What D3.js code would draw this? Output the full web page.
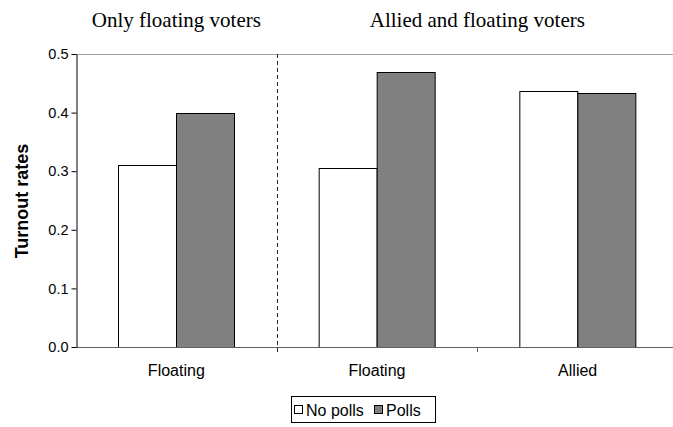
<!DOCTYPE html>
<html><head><meta charset="utf-8">
<script src="https://cdn.jsdelivr.net/npm/d3@7"></script>
<style>body{margin:0;background:#fff}svg{display:block}</style>
</head><body><svg id="c" width="673" height="427"></svg>
<script>
const groups = ["g1","g2","g3"];
const categories = ["Floating","Floating","Allied"];
const series = ["No polls","Polls"];
const noPolls = [0.310, 0.305, 0.437];
const polls = [0.400, 0.470, 0.434];
const yTicks = [0,0.1,0.2,0.3,0.4,0.5];
const panelTitles = ["Only floating voters","Allied and floating voters"];
const colors = {"No polls":"#ffffff","Polls":"#808080"};

const svg = d3.select("#c");
const L=76, R=678, T=54, B=347;
const x0 = d3.scaleBand().domain(groups).range([L,R]).padding(0);
const bw = x0.bandwidth();
const x1 = d3.scaleBand().domain(series).range([bw*0.211, bw*0.789]).padding(0);
const y = d3.scaleLinear().domain([0,0.5]).range([B,T]);

// top border line
svg.append("line").attr("x1",L).attr("x2",R).attr("y1",y(0.5)+0.5).attr("y2",y(0.5)+0.5)
  .attr("stroke","#a0a0a0").attr("stroke-width",1);

// bars
const data = groups.map((g,i)=>({g, vals:[{s:"No polls",v:noPolls[i]},{s:"Polls",v:polls[i]}]}));
const gg = svg.append("g").selectAll("g").data(data).join("g")
  .attr("transform",d=>`translate(${x0(d.g)},0)`);
gg.selectAll("rect").data(d=>d.vals).join("rect")
  .attr("x",d=>Math.round(x1(d.s))+0.5).attr("width",Math.round(x1.bandwidth()))
  .attr("y",d=>Math.round(y(d.v))+0.5).attr("height",d=>B-Math.round(y(d.v)))
  .attr("fill",d=>colors[d.s]).attr("stroke","#000").attr("stroke-width",1);

// x axis line
svg.append("line").attr("x1",L).attr("x2",R).attr("y1",B+0.5).attr("y2",B+0.5)
  .attr("stroke","#606060");
// x ticks at boundaries
svg.append("line").attr("x1",Math.round(x0("g3"))+0.5).attr("x2",Math.round(x0("g3"))+0.5)
  .attr("y1",B).attr("y2",B+5).attr("stroke","#606060");
// dashed separator
svg.append("line").attr("x1",Math.round(x0("g2"))+0.5).attr("x2",Math.round(x0("g2"))+0.5)
  .attr("y1",T).attr("y2",B+5).attr("stroke","#222").attr("stroke-dasharray","4,3");

// x labels
svg.append("g").selectAll("text").data(groups).join("text")
  .attr("x",g=>x0(g)+bw/2).attr("y",376).attr("text-anchor","middle")
  .attr("font-family","Liberation Sans, Arial, sans-serif").attr("font-size",16)
  .text((g,i)=>categories[i]);

// y axis
const ya = svg.append("g").attr("transform",`translate(${L+0.5},0)`)
  .call(d3.axisLeft(y).tickValues(yTicks).tickFormat(d3.format(".1f")).tickSize(5).tickSizeOuter(0));
ya.select(".domain").attr("stroke","#000");
ya.selectAll(".tick line").attr("stroke","#000");
ya.selectAll("text").attr("font-family","Liberation Sans, Arial, sans-serif").attr("font-size",14.5).attr("fill","#000").attr("x",-8);

// y title
svg.append("text").attr("transform","translate(28,201) rotate(-90)").attr("text-anchor","middle")
  .attr("font-family","Liberation Sans, Arial, sans-serif").attr("font-weight","bold").attr("font-size",18)
  .text("Turnout rates");

// panel titles
const tx = [x0("g1")+bw/2, (x0("g2")+x0("g3")+bw)/2];
svg.append("g").selectAll("text").data(panelTitles).join("text")
  .attr("x",(d,i)=>tx[i]).attr("y",27).attr("text-anchor","middle")
  .attr("font-family","Liberation Serif, Times New Roman, serif").attr("font-size",21)
  .text(d=>d);

// legend
const lg = svg.append("g");
lg.append("rect").attr("x",291.5).attr("y",396.5).attr("width",144).attr("height",26)
  .attr("fill","#fff").attr("stroke","#000");
const lx = [294, 374];
series.forEach((s,i)=>{
  lg.append("rect").attr("x",lx[i]+0.5).attr("y",405.5).attr("width",8).attr("height",8)
    .attr("fill",colors[s]).attr("stroke","#000");
  lg.append("text").attr("x",lx[i]+12).attr("y",416)
    .attr("font-family","Liberation Sans, Arial, sans-serif").attr("font-size",16).text(s);
});
</script></body></html>
